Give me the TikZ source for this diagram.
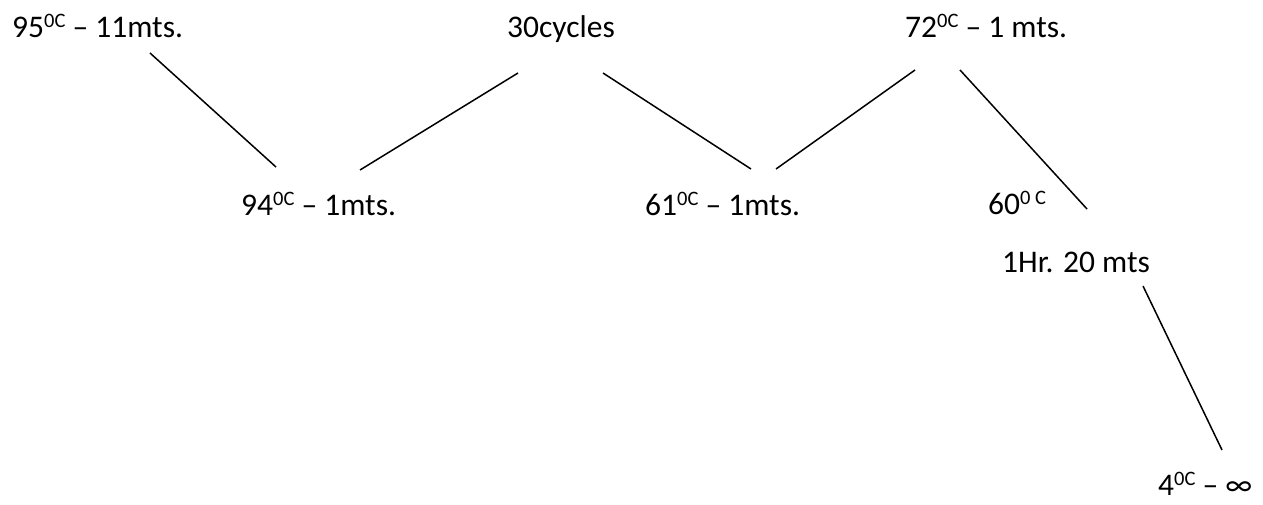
\documentclass[tikz,border=0pt]{standalone}
\usepackage{fontspec}
\setmainfont{Carlito}
\newcommand{\supx}[1]{\raisebox{10pt}{\fontsize{20.5pt}{20pt}\selectfont #1}}
\tikzset{
  lbl/.style={anchor=base west, inner sep=0pt, font=\fontsize{31.5pt}{36pt}\selectfont},
  conn/.style={line width=1.5pt, black}
}
\begin{document}
\begin{tikzpicture}[x=1pt,y=1pt]
\useasboundingbox (0,0) rectangle (1263,-504);
\node[lbl] (t95) at (12,-37) {95\supx{0C} – 11mts.};
\node[lbl] (t30) at (507,-37) {30cycles};
\node[lbl] (t72) at (905,-37) {72\supx{0C} – 1 mts.};
\node[lbl] (t94) at (241,-215) {94\supx{0C} – 1mts.};
\node[lbl] (t61) at (645,-215) {61\supx{0C} – 1mts.};
\node[lbl] (t60) at (988,-214) {60\supx{0 C}};
\node[lbl] (thr) at (1002,-272) {1Hr. 20 mts};
\node[lbl] (t4) at (1158,-495) {4\supx{0C} – ∞};
\coordinate (a1) at (150,-53);  \coordinate (b1) at (276,-167);
\coordinate (a2) at (518,-73);  \coordinate (b2) at (360,-170);
\coordinate (a3) at (603,-73);  \coordinate (b3) at (751,-169);
\coordinate (a4) at (915,-70);  \coordinate (b4) at (776,-169);
\coordinate (a5) at (960,-70);  \coordinate (b5) at (1087,-209);
\coordinate (a6) at (1143,-286); \coordinate (b6) at (1222,-450);
\draw[conn] (a1) -- (b1);
\draw[conn] (a2) -- (b2);
\draw[conn] (a3) -- (b3);
\draw[conn] (a4) -- (b4);
\draw[conn] (a5) -- (b5);
\draw[conn] (a6) -- (b6);
\end{tikzpicture}
\end{document}
